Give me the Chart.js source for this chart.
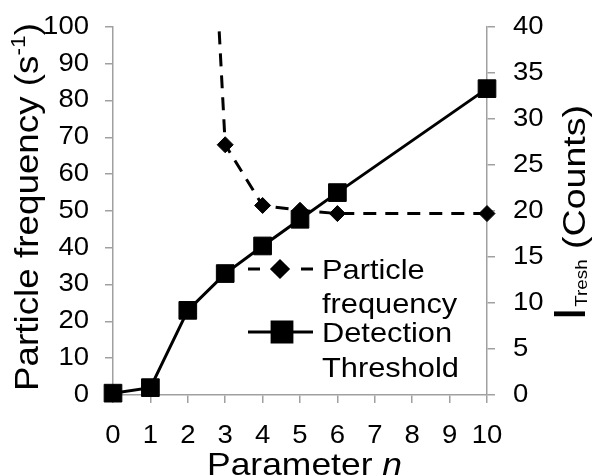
<!DOCTYPE html>
<html>
<head>
<meta charset="utf-8">
<script src="https://cdn.jsdelivr.net/npm/chart.js@4.4.1/dist/chart.umd.min.js"></script>
<style>
  html, body { margin: 0; padding: 0; background: #fff; }
  #wrap { width: 594px; height: 476px; }
</style>
</head>
<body>
<div id="wrap"><canvas id="chart" width="594" height="476"></canvas></div>
<script>
// values
const freqN = [2, 3, 4, 5, 6, 10];
const particleFrequency = [260, 68, 51.5, 50.2, 49.3, 49.3];   // s^-1, left axis (first point runs off the top)
const thresholdN = [0, 1, 2, 3, 4, 5, 6, 10];
const detectionThreshold = [0.2, 0.8, 9.2, 13.2, 16.2, 19.1, 22, 33.3]; // counts, right axis
const xTickLabels = [0, 1, 2, 3, 4, 5, 6, 7, 8, 9, 10];

const FONT = "'Liberation Sans', Arial, sans-serif";
const AXIS_GREY = "#a0a0a0";
const TEXT_SX = 1.1;   // the reference text is a bit wider than Arial

const toPoints = (xs, ys) => xs.map((x, i) => ({ x: x, y: ys[i] }));

// draw some text runs along a baseline, starting at (x, y), scaled to a given length
function drawRuns(ctx, fill, runs, x, y, rot, length) {
    ctx.save();
    ctx.translate(x, y);
    ctx.rotate(rot);
    let total = 0;
    runs.forEach(r => { ctx.font = r.font; r.w = ctx.measureText(r.text).width; total += r.w; });
    ctx.scale(length ? length / total : TEXT_SX, 1);
    ctx.textAlign = "left";
    ctx.textBaseline = "alphabetic";
    ctx.fillStyle = "#000";
    let cx = 0;
    runs.forEach(r => { ctx.font = r.font; fill.call(ctx, r.text, cx, r.dy || 0); cx += r.w; });
    ctx.restore();
}

const textPlugin = {
    id: "textPlugin",
    beforeDraw(chart) {
        const ctx = chart.ctx;
        if (!ctx._origFill) {
            ctx._origFill = ctx.fillText;
            ctx.fillText = function (t, x, y) {
                this.save();
                this.translate(x, y);
                this.scale(TEXT_SX, 1);
                ctx._origFill.call(this, t, 0, 0);
                this.restore();
            };
        }
    },
    afterDraw(chart) {
        const ctx = chart.ctx;
        const fill = ctx._origFill;

        // axis titles
        drawRuns(ctx, fill, [
            { text: "Parameter ", font: "32px " + FONT },
            { text: "n", font: "italic 32px " + FONT }
        ], 207, 475, 0, 195);

        drawRuns(ctx, fill, [
            { text: "Particle frequency (s", font: "34px " + FONT },
            { text: "-1", font: "21px " + FONT, dy: -13 },
            { text: ")", font: "34px " + FONT }
        ], 38, 391, -Math.PI / 2, 368);

        drawRuns(ctx, fill, [
            { text: "I", font: "44px " + FONT },
            { text: "Tresh", font: "16px " + FONT, dy: 2 },
            { text: " (Counts)", font: "32px " + FONT }
        ], 585, 321, -Math.PI / 2, 216);

        // legend
        ctx.save();
        ctx.strokeStyle = "#000";
        ctx.fillStyle = "#000";
        ctx.lineWidth = 3;
        ctx.beginPath();
        ctx.moveTo(248, 269); ctx.lineTo(260, 269);
        ctx.moveTo(301, 269); ctx.lineTo(313, 269);
        ctx.moveTo(248, 332); ctx.lineTo(313, 332);
        ctx.stroke();
        Chart.helpers.drawPoint(ctx, { pointStyle: "rectRot", radius: 8, borderWidth: 1 }, 280, 269);
        ctx.fill();
        Chart.helpers.drawPoint(ctx, { pointStyle: "rect", radius: 14, borderWidth: 1 }, 282, 332);
        ctx.fill();
        ctx.restore();

        const lf = "28px " + FONT;
        drawRuns(ctx, fill, [{ text: "Particle", font: lf }], 322, 279, 0, 0);
        drawRuns(ctx, fill, [{ text: "frequency", font: lf }], 322, 313, 0, 0);
        drawRuns(ctx, fill, [{ text: "Detection", font: lf }], 322, 342, 0, 0);
        drawRuns(ctx, fill, [{ text: "Threshold", font: lf }], 322, 377, 0, 0);
    }
};

// fixed axis boxes so the plot area sits where the reference has it
function fixBox(size) {
    return s => {
        if (s.isHorizontal()) s.height = size; else s.width = size;
        s.paddingTop = 0; s.paddingBottom = 0; s.paddingLeft = 0; s.paddingRight = 0;
    };
}

const ctx = document.getElementById("chart");

new Chart(ctx, {
    type: "line",
    data: {
        datasets: [
            {
                label: "Particle frequency",
                data: toPoints(freqN, particleFrequency),
                yAxisID: "y",
                borderColor: "#000",
                backgroundColor: "#000",
                borderWidth: 3,
                borderDash: [13, 9],
                pointStyle: "rectRot",
                pointRadius: 8,
                pointBorderWidth: 1,
                tension: 0,
                clip: { left: 15, top: 0, right: 15, bottom: 15 }
            },
            {
                label: "Detection Threshold",
                data: toPoints(thresholdN, detectionThreshold),
                yAxisID: "y1",
                borderColor: "#000",
                backgroundColor: "#000",
                borderWidth: 3,
                pointStyle: "rect",
                pointRadius: 12.5,
                pointBorderWidth: 1,
                tension: 0,
                clip: false
            }
        ]
    },
    options: {
        responsive: false,
        animation: false,
        events: [],
        layout: { padding: { top: 27, left: 0, right: 0, bottom: 0 } },
        plugins: { legend: { display: false }, tooltip: { enabled: false } },
        scales: {
            x: {
                type: "linear",
                min: 0,
                max: 10,
                afterBuildTicks: s => { s.ticks = xTickLabels.map(v => ({ value: v })); },
                afterFit: fixBox(81),
                border: { color: AXIS_GREY, width: 1.5 },
                grid: { drawOnChartArea: false, drawTicks: true, tickLength: 8, color: AXIS_GREY, lineWidth: 1.5 },
                ticks: { autoSkip: false, maxRotation: 0, padding: 18, color: "#000", font: { family: FONT, size: 25 } }
            },
            y: {
                position: "left",
                min: 0,
                max: 100,
                afterFit: fixBox(113),
                border: { color: AXIS_GREY, width: 1.5 },
                grid: { drawOnChartArea: false, drawTicks: true, tickLength: 8, color: AXIS_GREY, lineWidth: 1.5 },
                ticks: { stepSize: 10, padding: 16, color: "#000", font: { family: FONT, size: 25 } }
            },
            y1: {
                position: "right",
                min: 0,
                max: 40,
                afterFit: fixBox(107),
                border: { color: AXIS_GREY, width: 1.5 },
                grid: { drawOnChartArea: false, drawTicks: true, tickLength: 8, color: AXIS_GREY, lineWidth: 1.5 },
                ticks: { stepSize: 5, padding: 18, color: "#000", font: { family: FONT, size: 25 } }
            }
        }
    },
    plugins: [textPlugin]
});
</script>
</body>
</html>
